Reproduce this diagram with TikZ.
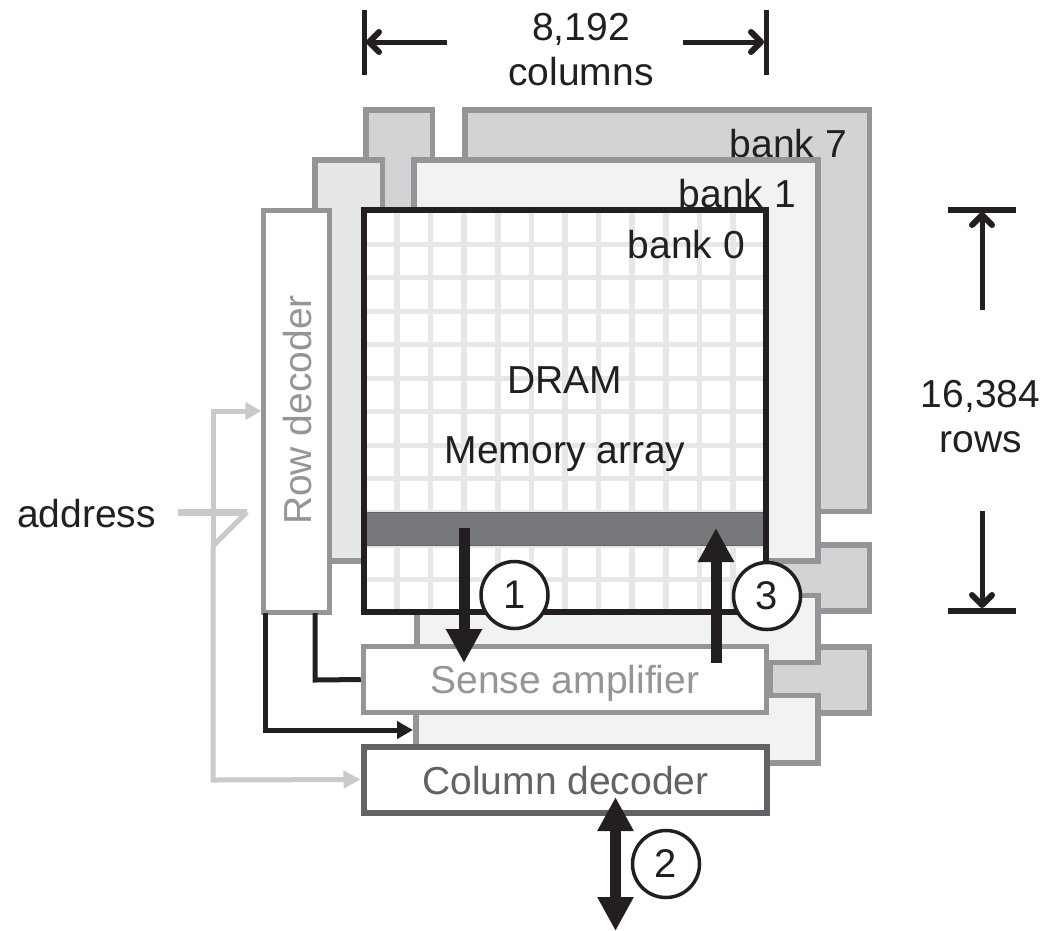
\documentclass[tikz,border=0pt]{standalone}
\usepackage{fontspec}
\setmainfont{Liberation Sans}
\usetikzlibrary{arrows.meta}
\definecolor{bdgray}{HTML}{939598}
\definecolor{bsvn}{HTML}{D1D3D4}
\definecolor{bone}{HTML}{F1F2F2}
\definecolor{bone2}{HTML}{E6E7E8}
\definecolor{gridc}{HTML}{E6E7E8}
\definecolor{blk}{HTML}{231F20}
\definecolor{bar}{HTML}{77787B}
\definecolor{dgray}{HTML}{626366}
\definecolor{lgray}{HTML}{C9CACC}
\tikzset{
 x=1pt,y=-1pt,
 bigfont/.style={font=\fontsize{39}{45}\selectfont},
 plane7/.style={draw=bdgray,fill=bsvn,line width=5.5pt},
 plane1/.style={draw=bdgray,fill=bone,line width=5.5pt},
 plane1b/.style={draw=bdgray,fill=bone2,line width=5.5pt},
 txt/.style={bigfont,text=blk,inner sep=0pt,align=center},
 fat/.style={line width=11pt,draw=blk,-{Triangle[width=34pt,length=34pt,fill=blk]}},
 dim/.style={line width=5pt,draw=blk,-{Straight Barb[length=10pt,width=20pt,line width=6pt,round]}},
 thin/.style={line width=5pt,draw=blk},
 num/.style={circle,draw=blk,fill=white,line width=3.5pt,minimum size=67pt,inner sep=0pt,font=\fontsize{40}{40}\selectfont,text=blk},
}
\begin{document}
\begin{tikzpicture}
\useasboundingbox (0,0) rectangle (1048,930);
% bank 7
\draw[plane7] (366,110) rectangle (432.5,300);
\draw[plane7] (465,110) rectangle (869.5,511.5);
\draw[plane7] (770,545) rectangle (869.5,611);
\draw[plane7] (770,647) rectangle (869.5,713);
\node[txt,anchor=east] (b7) at (847,144) {bank 7};
% bank 1
\draw[plane1b] (315,160) rectangle (382.5,561);
\draw[plane1] (414,160) rectangle (818,561);
\draw[plane1] (417,595.5) rectangle (818,662.5);
\draw[plane1] (416,695.5) rectangle (818,763);
\node[txt,anchor=east] (b1) at (796,194) {bank 1};
% array
\fill[white] (364,210) rectangle (766,612);
\foreach \k in {0,...,10}{\draw[gridc,line width=5pt] (364,{244+33.5*\k}) -- (766,{244+33.5*\k});}
\foreach \k in {0,...,10}{\draw[gridc,line width=5.5pt] ({397+33.6*\k},210) -- ({397+33.6*\k},612);}
\fill[bar,draw=blk!70!white,line width=1pt] (364,512) rectangle (766,545);
\draw[draw=blk,line width=5.5pt] (364,210) rectangle (766,612);
\node[txt,anchor=east] (b0) at (745,245) {bank 0};
\node[txt] (dram) at (565,380) {DRAM};
\node[txt] (mem) at (565,454) {Memory array};
% row decoder
\node[draw=bdgray,fill=white,line width=5pt,minimum width=65.5pt,minimum height=402pt,inner sep=0pt] (rowd) at (296.7,411) {};
\node[bigfont,text=bdgray,rotate=90,inner sep=0pt] (rowt) at (298,410) {Row decoder};
% sense amp
\node[draw=bdgray,fill=white,line width=5.5pt,minimum width=403pt,minimum height=66pt,inner sep=0pt] (sense) at (565,679.5) {};
\node[bigfont,text=bdgray,inner sep=0pt] (senset) at (565,683) {Sense amplifier};
% column decoder
\node[draw=dgray,fill=white,line width=6pt,minimum width=403pt,minimum height=66pt,inner sep=0pt] (cold) at (565,779.5) {};
\node[bigfont,text=dgray,inner sep=0pt] (coldt) at (565.5,781) {Column decoder};
% dimension
\coordinate (tl1) at (364,10); \coordinate (tl2) at (364,75);
\coordinate (tr1) at (766,10); \coordinate (tr2) at (766,75);
\draw[thin] (tl1) -- (tl2); \draw[thin] (tr1) -- (tr2);
\node[txt] (cols) at (581,50) {8,192\\columns};
\coordinate (a1) at (447,42); \coordinate (a2) at (366,42);
\coordinate (a3) at (683,42); \coordinate (a4) at (764,42);
\draw[dim] (a1) -- (a2); \draw[dim] (a3) -- (a4);
\coordinate (rl1) at (948,209.5); \coordinate (rl2) at (1016,209.5);
\coordinate (rl3) at (948,610.5); \coordinate (rl4) at (1016,610.5);
\draw[line width=6pt,blk] (rl1) -- (rl2); \draw[line width=6pt,blk] (rl3) -- (rl4);
\node[txt] (rows) at (980.5,417) {16,384\\rows};
\coordinate (a5) at (982,310); \coordinate (a6) at (982,212);
\coordinate (a7) at (982,511); \coordinate (a8) at (982,608);
\draw[dim] (a5) -- (a6); \draw[dim] (a7) -- (a8);
% address
\node[txt,anchor=east] (addr) at (156,514) {address};
\coordinate (ad1) at (178,512); \coordinate (ad2) at (247,512);
\coordinate (ad3) at (213,546); \coordinate (ad4) at (213,411); \coordinate (ad5) at (213,780);
\draw[lgray,line width=7pt] (ad1) -- (ad2);
\draw[lgray,line width=5pt] (ad2) -- (ad3);
\draw[lgray,line width=5pt,-{Triangle[width=17pt,length=16pt,fill=lgray]}] (ad3) -- (ad4) -- (rowd.west);
\draw[lgray,line width=5pt,-{Triangle[width=17pt,length=17pt,fill=lgray]}] (ad3) -- (ad5) -- (cold.west);
% decoder controls
\coordinate (c1) at (315,613); \coordinate (c2) at (315,680);
\coordinate (c3) at (265,613); \coordinate (c4) at (265,730); \coordinate (c5) at (413,730);
\draw[thin] (c1) -- (c2) -- (sense.west);
\draw[thin,-{Triangle[width=17pt,length=16pt,fill=blk]}] (c3) -- (c4) -- (c5);
% fat arrows
\coordinate (f1) at (464,528); \coordinate (f2) at (464,663);
\coordinate (f3) at (716,663); \coordinate (f4) at (716,528);
\draw[fat] (f1) -- (f2); \draw[fat] (f3) -- (f4);
\coordinate (f5) at (615.5,797); \coordinate (f6) at (615.5,931);
\draw[line width=11pt,draw=blk,{Triangle[width=34pt,length=34pt,fill=blk]}-{Triangle[width=34pt,length=34pt,fill=blk]}] (f5) -- (f6);
\node[num] (n1) at (514.5,595) {1};
\node[num] (n3) at (767,596) {3};
\node[num] (n2) at (666,864) {2};
\end{tikzpicture}
\end{document}
